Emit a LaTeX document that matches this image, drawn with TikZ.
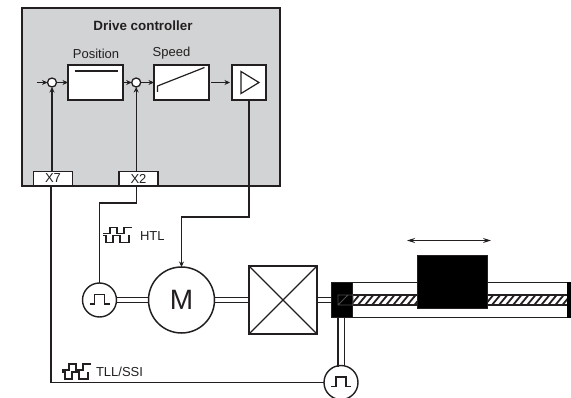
\documentclass[tikz,border=0pt]{standalone}
\usepackage{fontspec}
\setmainfont{Liberation Sans}
\usetikzlibrary{arrows.meta,calc}
\definecolor{ctrl}{HTML}{D1D3D4}
\definecolor{ink}{HTML}{231F20}
\tikzset{
  every node/.style={inner sep=0pt,outer sep=0pt,text=ink},
  ctrlbox/.style={draw=ink,line width=1.5pt,fill=white,minimum height=35pt},
  port/.style={draw=ink,line width=1.3pt,fill=white,minimum width=39pt,minimum height=14pt,font=\fontsize{13}{13}\selectfont},
  summer/.style={circle,draw=ink,line width=1.3pt,fill=white,minimum size=9pt},
  encoder/.style={circle,draw=ink,line width=1.4pt,fill=white,minimum size=34pt},
  wire/.style={draw=ink,line width=1.3pt},
  arrowed/.style={wire,-{Stealth[length=5.5pt,width=5pt]}},
  label/.style={font=\fontsize{13}{13}\selectfont},
  shaftline/.style={draw=ink,line width=1.2pt},
  wave/.pic={
    \draw[ink,line width=1.3pt] (0,6) -- (7,6) -- (7,0) -- (14,0) -- (14,6) -- (21,6) -- (21,0) -- (29,0);
    \draw[ink,line width=1.3pt] (0,8) -- (3,8) -- (3,15) -- (10,15) -- (10,8) -- (17,8) -- (17,15) -- (26,15) -- (26,8);
  },
  pulse/.pic={
    \draw[ink,line width=1.4pt] (-10,4) -- (-5,4) -- (-5,-5.5) -- (5,-5.5) -- (5,4) -- (10,4);
  }
}
\begin{document}
\begin{tikzpicture}[x=1pt,y=-1pt]
\useasboundingbox (0,0) rectangle (571,398);
% controller
\node[draw=ink,line width=1.6pt,fill=ctrl,minimum width=258pt,minimum height=178pt] (ctrl) at (151,97) {};
\node[font=\bfseries\fontsize{13.4}{13.4}\selectfont] (title) at (143,25.5) {Drive controller};
\node[label] (lpos) at (96,53.5) {Position};
\node[label] (lspd) at (171.5,53.5) {Speed};
\node[ctrlbox,minimum width=55pt] (pos) at (95.5,82.5) {};
\node[ctrlbox,minimum width=55pt] (spd) at (181.5,82.5) {};
\node[ctrlbox,minimum width=34pt] (amp) at (249,82.5) {};
\node[summer] (s1) at (52,82.5) {};
\node[summer] (s2) at (136.2,82.5) {};
\coordinate (in) at (37,82.5);
\node[port] (x7) at (53,178.5) {X7};
\node[port] (x2) at (138.5,178.5) {X2};
\draw[ink,line width=1.2pt] ($(pos.center)+(-21,-11.5)$) -- ($(pos.center)+(22,-11.5)$);
\draw[ink,line width=1.2pt] ($(spd.center)+(-24,9.5)$) -- ($(spd.center)+(-24,3.5)$) -- ($(spd.center)+(23,-15)$);
\draw[ink,line width=1.2pt] ($(amp.center)+(-8,-11)$) -- ($(amp.center)+(10,0)$) -- ($(amp.center)+(-8,11)$) -- cycle;
\draw[arrowed] (in) -- (s1.west);
\draw[arrowed] (s1.east) -- (pos.west);
\draw[arrowed] (pos.east) -- (s2.west);
\draw[arrowed] (s2.east) -- (spd.west);
\draw[arrowed,shorten <=2pt,shorten >=2pt] (spd.east) -- (amp.west);
\draw[arrowed] (s1|-x7.north) -- (s1.south);
\draw[arrowed] (s2|-x2.north) -- (s2.south);
% drive train
\node[encoder] (enc1) at (99.5,300) {};
\node[circle,draw=ink,line width=1.5pt,fill=white,minimum size=66pt,font=\fontsize{28}{28}\selectfont] (motor) at (181.5,300) {M};
\node[draw=ink,line width=2pt,minimum width=68pt,minimum height=68pt] (gear) at (283,300) {};
\draw[ink,line width=1.4pt] (gear.north west) -- (gear.south east) (gear.north east) -- (gear.south west);
\node[encoder] (enc2) at (341,382.5) {};
\pic at (enc1.center) {pulse};
\pic at (enc2.center) {pulse};
\node[label,anchor=west] (htl) at (140,236.5) {HTL};
\node[label,anchor=west] (tll) at (96,371.5) {TLL/SSI};
\pic at (103,227.5) {wave};
\pic at (62,364) {wave};
% screw and rails
\draw[ink,line width=1.5pt] (340,282.5) -- (570,282.5) (340,317.5) -- (570,317.5);
\begin{scope}
  \clip (338,295) rectangle (571,305);
  \fill[white] (338,295) rectangle (571,305);
  \foreach \k in {0,...,34} \draw[ink,line width=1.8pt] ({336+7.05*\k},306) -- ({346+7.05*\k},294);
\end{scope}
\draw[ink,line width=1.5pt] (338,295) -- (571,295) (338,305) -- (571,305);
\node[fill=black,draw=ink,line width=1pt,minimum width=21pt,minimum height=35pt] (nut) at (341.5,300) {};
\draw[ink!80,line width=.8pt] (338,295) rectangle (353,305) (338,305) -- (348,295);
\fill[black] (567,282) rectangle (571,318);
\node[fill=black,draw=ink,line width=1pt,minimum width=70pt,minimum height=53pt] (carriage) at (452,282.5) {};
\coordinate (al) at (407,240.5);
\coordinate (ar) at (491,240.5);
\draw[ink,line width=1pt,{Stealth[length=8pt,width=5pt]}-{Stealth[length=8pt,width=5pt]}] (al) -- (ar);
% shafts
\foreach \d in {-2.5,2.5} {
  \draw[shaftline] ($(enc1.east)+(0,\d)$) -- ($(motor.west)+(0,\d)$);
  \draw[shaftline] ($(motor.east)+(0,\d)$) -- ($(gear.west)+(0,\d)$);
  \draw[shaftline] ($(gear.east)+(0,\d)$) -- ($(nut.west)+(0,\d)$);
}
\draw[shaftline] (338,318) -- (338,367) (344.5,318) -- (344.5,366);
% wiring
\draw[wire] ([xshift=-2pt]x7.south) |- (enc2.west);
\draw[wire] (x2.south-|s2) -- (136.2,203) -| (enc1.north);
\draw[arrowed] (amp.south) -- (249,217) -| (motor.north);
\end{tikzpicture}
\end{document}
